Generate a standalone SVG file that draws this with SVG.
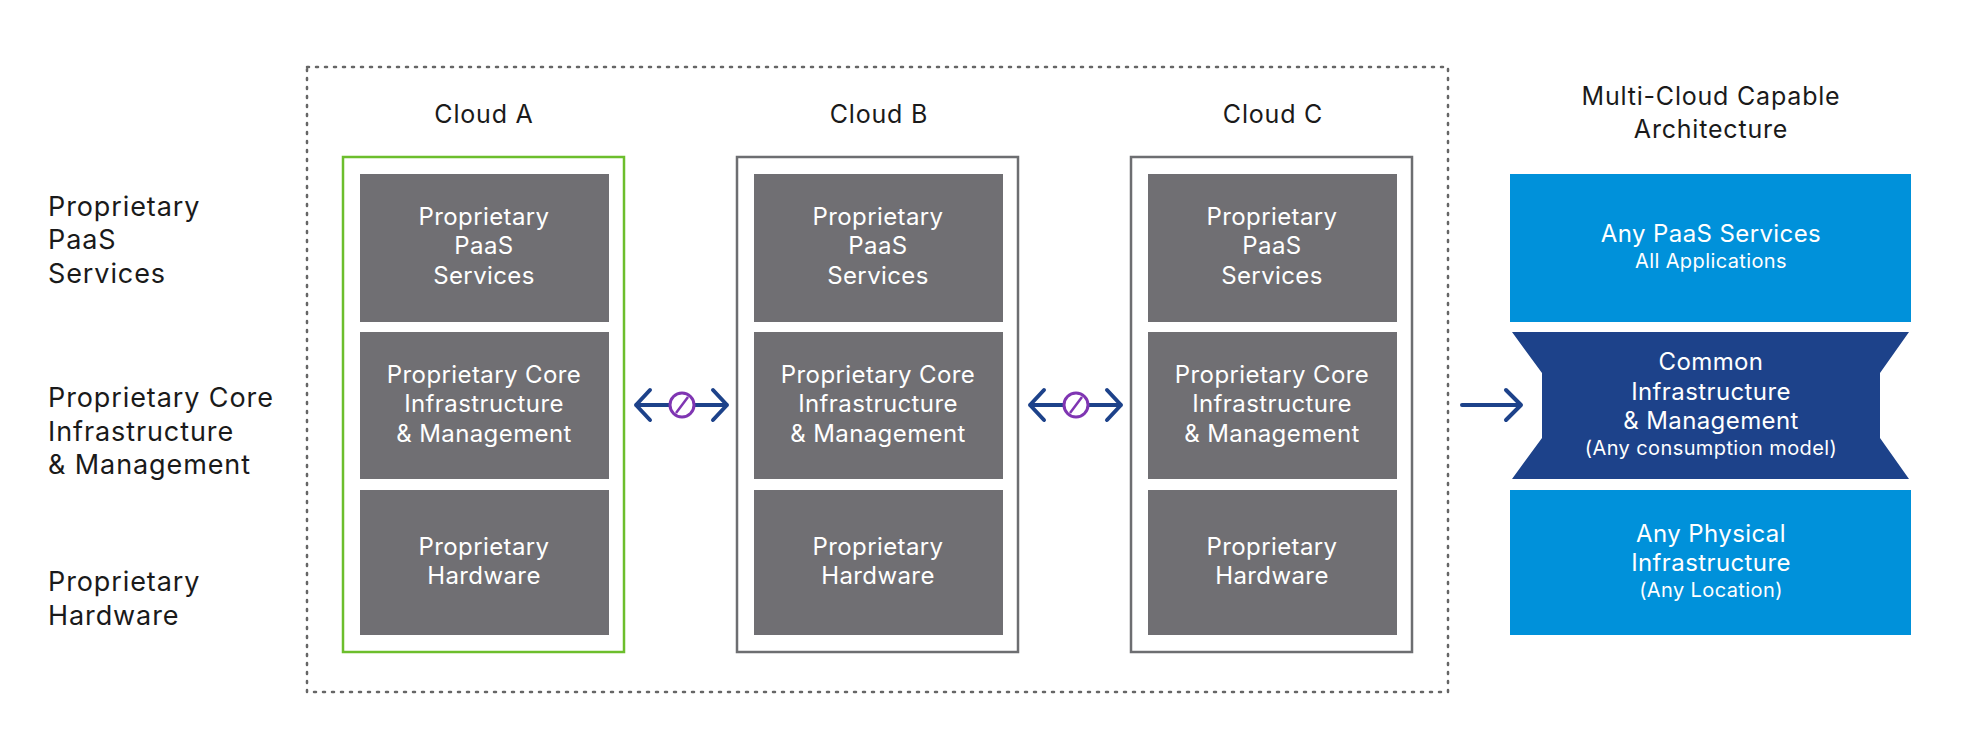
<svg xmlns="http://www.w3.org/2000/svg" width="1980" height="744" viewBox="0 0 1980 744">
<defs>
<style>
text{font-family:Inter,"Noto Sans","Liberation Sans",sans-serif;text-anchor:middle;letter-spacing:0.4px}
.lbl{font-size:27px;fill:#1a1a1a;text-anchor:start;letter-spacing:0.9px}
.ttl{font-size:25px;fill:#1a1a1a;letter-spacing:0.8px}
.in{font-size:24px;fill:#fff}
.sm{font-size:20px;fill:#fff}
.g{fill:#706F73}
.b{fill:#0091DA}
.cloud{fill:none;stroke:#6d6e71;stroke-width:2.5}
.arr{fill:none;stroke:#1D428A;stroke-width:4;stroke-linecap:round;stroke-linejoin:round}
</style>
</defs>
<rect width="1980" height="744" fill="#fff"/>
<rect x="307" y="67" width="1141" height="625" fill="none" stroke="#666" stroke-width="2.5" stroke-dasharray="2 7" stroke-linecap="round"/>
<g id="labels">
<text class="lbl" x="48" y="216">Proprietary</text><text class="lbl" x="48" y="249">PaaS</text><text class="lbl" x="48" y="283">Services</text>
<text class="lbl" x="48" y="407">Proprietary Core</text><text class="lbl" x="48" y="441">Infrastructure</text><text class="lbl" x="48" y="474">&amp; Management</text>
<text class="lbl" x="48" y="591">Proprietary</text><text class="lbl" x="48" y="625">Hardware</text>
</g>
<g id="cloudA">
<text class="ttl" x="484" y="123">Cloud A</text>
<rect x="343" y="157" width="281" height="495" fill="none" stroke="#6CBE2C" stroke-width="2.5"/>
<rect class="g" x="360" y="174" width="249" height="148"/>
<rect class="g" x="360" y="332" width="249" height="147"/>
<rect class="g" x="360" y="490" width="249" height="145"/>
<text class="in" x="484" y="225">Proprietary</text><text class="in" x="484" y="254">PaaS</text><text class="in" x="484" y="284">Services</text>
<text class="in" x="484" y="383">Proprietary Core</text><text class="in" x="484" y="412">Infrastructure</text><text class="in" x="484" y="442">&amp; Management</text>
<text class="in" x="484" y="555">Proprietary</text><text class="in" x="484" y="584">Hardware</text>
</g>
<g id="cloudB">
<text class="ttl" x="879" y="123">Cloud B</text>
<rect class="cloud" x="737" y="157" width="281" height="495"/>
<rect class="g" x="754" y="174" width="249" height="148"/>
<rect class="g" x="754" y="332" width="249" height="147"/>
<rect class="g" x="754" y="490" width="249" height="145"/>
<text class="in" x="878" y="225">Proprietary</text><text class="in" x="878" y="254">PaaS</text><text class="in" x="878" y="284">Services</text>
<text class="in" x="878" y="383">Proprietary Core</text><text class="in" x="878" y="412">Infrastructure</text><text class="in" x="878" y="442">&amp; Management</text>
<text class="in" x="878" y="555">Proprietary</text><text class="in" x="878" y="584">Hardware</text>
</g>
<g id="cloudC">
<text class="ttl" x="1273" y="123">Cloud C</text>
<rect class="cloud" x="1131" y="157" width="281" height="495"/>
<rect class="g" x="1148" y="174" width="249" height="148"/>
<rect class="g" x="1148" y="332" width="249" height="147"/>
<rect class="g" x="1148" y="490" width="249" height="145"/>
<text class="in" x="1272" y="225">Proprietary</text><text class="in" x="1272" y="254">PaaS</text><text class="in" x="1272" y="284">Services</text>
<text class="in" x="1272" y="383">Proprietary Core</text><text class="in" x="1272" y="412">Infrastructure</text><text class="in" x="1272" y="442">&amp; Management</text>
<text class="in" x="1272" y="555">Proprietary</text><text class="in" x="1272" y="584">Hardware</text>
</g>
<g id="multicloud">
<text class="ttl" x="1711" y="105">Multi-Cloud Capable</text><text class="ttl" x="1711" y="138">Architecture</text>
<rect class="b" x="1510" y="174" width="401" height="148"/>
<path d="M1512 332 H1909 L1880 373 V438 L1909 479 H1512 L1542 438 V373 Z" fill="#1D428A"/>
<rect class="b" x="1510" y="490" width="401" height="145"/>
<text class="in" x="1711" y="242">Any PaaS Services</text><text class="sm" x="1711" y="268">All Applications</text>
<text class="in" x="1711" y="370">Common</text><text class="in" x="1711" y="400">Infrastructure</text><text class="in" x="1711" y="429">&amp; Management</text><text class="sm" x="1711" y="455">(Any consumption model)</text>
<text class="in" x="1711" y="542">Any Physical</text><text class="in" x="1711" y="571">Infrastructure</text><text class="sm" x="1711" y="597">(Any Location)</text>
</g>
<g id="connectors">
<path class="arr" d="M636 405 H670 M650 390 L636 405 L650 420 M694 405 H727 M713 390 L727 405 L713 420"/>
<circle cx="682" cy="405" r="12" fill="#fff" stroke="#7F35B2" stroke-width="3"/><path d="M676 413 L688 397" stroke="#7F35B2" stroke-width="2.5"/>
<path class="arr" d="M1030 405 H1064 M1044 390 L1030 405 L1044 420 M1088 405 H1121 M1107 390 L1121 405 L1107 420"/>
<circle cx="1076" cy="405" r="12" fill="#fff" stroke="#7F35B2" stroke-width="3"/><path d="M1070 413 L1082 397" stroke="#7F35B2" stroke-width="2.5"/>
<path class="arr" d="M1462 405 H1520 M1506 390 L1521 405 L1506 420"/>
</g>
</svg>
